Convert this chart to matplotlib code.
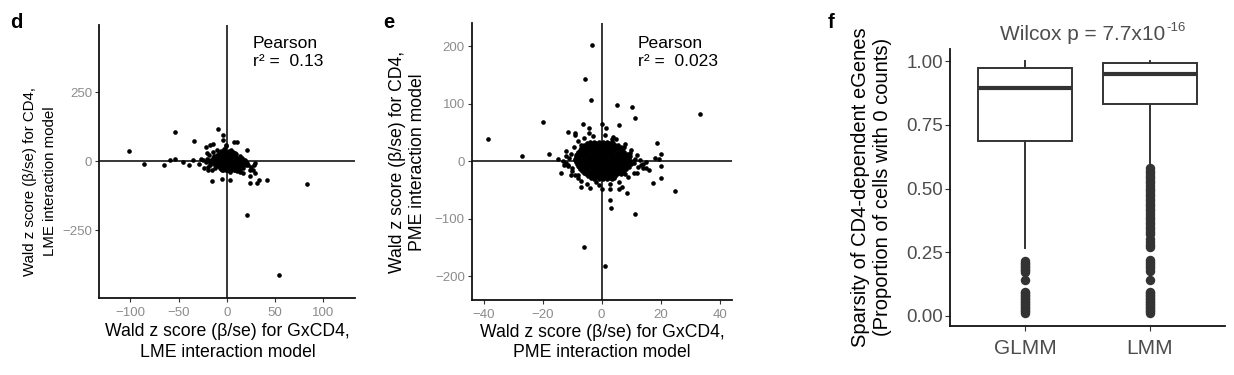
import numpy as np
import matplotlib
matplotlib.use("Agg")
import matplotlib.pyplot as plt

plt.rcParams['font.family'] = ['Liberation Sans', 'DejaVu Sans']

# ---------------- panel d data (GxCD4 z vs CD4 z, LME) ----------------
d_outer = [(-101.7, 36), (-86, -8), (-65.5, -12), (-58.6, 6), (-53.5, 106), (-53.5, 9),
           (-45.5, -3.6), (-38.7, -15), (-35, 4), (-33.8, 74), (-29, -8), (-26.6, 9),
           (-24, -24), (-19, -33), (-15.5, -70), (-21.7, 52), (-17.3, 58), (-13.9, 64),
           (-9.3, 118), (-4.1, 97), (-3.5, 79), (-0.7, 58), (7.9, 70), (10.3, 70),
           (20.7, 40), (-5, -63), (3.4, -69), (24, -78), (31.7, -80), (33.7, -69),
           (42, -69), (83.4, -82), (21.3, -193), (54, -410), (8.6, 30), (13.8, 18),
           (20.7, -6), (29.3, -6), (27.5, -30), (29.3, -42), (24, -54), (17.2, -42),
           (13.8, -30), (-21, 30)]
d_halo = [(-20, 10), (-22, -4), (-18, 22), (-17, -14), (-14, 35), (-12, -25), (-10, 42),
          (-6, -28), (-3, 46), (1, -30), (4, 40), (7, -26), (10, 28), (13, -18), (16, 12),
          (18, -8), (20, -2), (22, -14), (17, -24), (25, -20), (28, -12), (-25, 4),
          (-5, 24), (3, -38), (11, -35), (-1, 55), (6, 35), (14, -40), (-9, -15), (19, 5),
          (24, -30), (-19, -20), (-15, -30), (-4, -30), (0, -32), (4, -30), (8, -31)]
d_core_y = [36, 30, 24, 18, 12, 6, 0, -6, -12, -18, -24, -30]
d_core_x = [[-6, -2, 2],
            [-8, -4.4, -0.8, 2.8],
            [-10.6, -7, -3.4, 0.2, 3.8, 7.4],
            [-13, -9.4, -5.8, -2.2, 1.4, 5, 8.6],
            [-14.2, -10.6, -7, -3.4, 0.2, 3.8, 7.4, 11],
            [-19.6, -16, -12.4, -8.8, -5.2, -1.6, 2, 5.6, 9.2, 12.8, 16.4],
            [-17.8, -14.2, -10.6, -7, -3.4, 0.2, 3.8, 7.4, 11, 14.6, 18.2],
            [-17.6, -14, -10.4, -6.8, -3.2, 0.4, 4, 7.6, 11.2, 14.8, 18.4],
            [-12.2, -8.6, -5, -1.4, 2.2, 5.8, 9.4, 13, 16.6, 20.2],
            [-9, -5.4, -1.8, 1.8, 5.4, 9, 12.6, 16.2],
            [-7.2, -3.6, 0, 3.6, 7.2, 10.8],
            [-5, -1, 3, 7, 11]]
d_r2 = "0.13"

# ---------------- panel e data (GxCD4 z vs CD4 z, PME) ----------------
e_outer = [(-3.2, 202), (-5.7, 143), (-3.6, 106), (5.1, 97), (10.4, 94), (11.5, 75),
           (33.3, 82), (-38.6, 39), (-20, 68), (-26.9, 9), (-17.9, 13), (-6.2, 64),
           (-4.2, 57), (-4.2, 49), (0, 64), (1.4, 57), (5.9, 62), (-11.3, 51), (-9, 48),
           (-9, 45), (-13.6, -20), (-10.2, -24), (-8, -24), (-7, -45), (0, -48), (2.8, -48),
           (6, -49), (8.7, -56), (3, -68), (3.2, -82), (11.3, -92), (-6, -150), (1, -182),
           (18.9, 31), (20, 12), (18.2, 5), (19.3, 3), (20.1, -8), (20.3, -29), (17.5, -38),
           (24.8, -52), (14.9, -2), (16.2, -16), (13.3, -6), (13.9, -12), (11.9, -21),
           (9.6, 9), (11.3, 3), (7.7, 25), (3.7, 39), (-14.7, 3), (-11.9, 8), (-12.6, -6),
           (-11.4, -6)]
e_halo = [(-11, 5), (-12, -3), (-10.5, 12), (-10, -12), (-9.5, 25), (-11.5, -8), (-9, -25),
          (-8, 35), (-7, -35), (-6, 40), (-5, -40), (-3, 44), (-1, -42), (1, 45), (3, -40),
          (5, 38), (6, -36), (8, 30), (9, -28), (10, 20), (11, -20), (12, 10), (12.5, -10),
          (10.5, 0), (13, 2), (-13, 0), (-12, 18), (-8, -30), (7, -45), (4, 42), (-4, -47),
          (9.5, 14), (11, -4), (-10, -18), (2, 32), (-2, -36), (8, -22), (-7, 28), (14, -5),
          (15, -12)]
e_core_y = [34, 31, 28, 25, 22, 19, 16, 13, 10, 7, 4, 1, -2, -5, -8, -11, -14, -17,
            -20, -23, -26, -29, -32]
e_core_x = [[-4, -2.5, -1, 0.5, 2, 3.5],
            [-5, -3.5, -2, -0.5, 1, 2.5, 4],
            [-6, -4.7, -3.4, -2.1, -0.8, 0.5, 1.8, 3.1, 4.4, 5.7],
            [-6.5, -5.1, -3.8, -2.5, -1.2, 0.1, 1.4, 2.7, 4, 5.3, 6.6],
            [-7, -5.7, -4.4, -3.1, -1.8, -0.5, 0.8, 2.1, 3.4, 4.7, 6, 7.3],
            [-7.4, -6.1, -4.8, -3.5, -2.2, -0.9, 0.4, 1.7, 3, 4.3, 5.6, 6.9],
            [-8, -6.7, -5.4, -4.1, -2.8, -1.5, -0.2, 1.1, 2.4, 3.7, 5, 6.3, 7.6],
            [-8.2, -6.9, -5.6, -4.3, -3, -1.7, -0.4, 0.9, 2.2, 3.5, 4.8, 6.1, 7.4, 8.7],
            [-8.5, -7.2, -5.9, -4.6, -3.3, -2, -0.7, 0.6, 1.9, 3.2, 4.5, 5.8, 7.1, 8.4],
            [-8.8, -7.5, -6.2, -4.9, -3.6, -2.3, -1, 0.3, 1.6, 2.9, 4.2, 5.5, 6.8, 8.1, 9.4],
            [-9, -7.7, -6.4, -5.1, -3.8, -2.5, -1.2, 0.1, 1.4, 2.7, 4, 5.3, 6.6, 7.9, 9.2],
            [-8.9, -7.6, -6.3, -5, -3.7, -2.4, -1.1, 0.2, 1.5, 2.8, 4.1, 5.4, 6.7, 8, 9.3],
            [-8.6, -7.3, -6, -4.7, -3.4, -2.1, -0.8, 0.5, 1.8, 3.1, 4.4, 5.7, 7, 8.3, 9.6],
            [-8.3, -7, -5.7, -4.4, -3.1, -1.8, -0.5, 0.8, 2.1, 3.4, 4.7, 6, 7.3, 8.6, 9.9],
            [-8, -6.7, -5.4, -4.1, -2.8, -1.5, -0.2, 1.1, 2.4, 3.7, 5, 6.3, 7.6, 8.9],
            [-7.6, -6.3, -5, -3.7, -2.4, -1.1, 0.2, 1.5, 2.8, 4.1, 5.4, 6.7, 8, 9.3],
            [-7.2, -5.9, -4.6, -3.3, -2, -0.7, 0.6, 1.9, 3.2, 4.5, 5.8, 7.1, 8.4],
            [-6.6, -5.3, -4, -2.7, -1.4, -0.1, 1.2, 2.5, 3.8, 5.1, 6.4, 7.7],
            [-6, -4.7, -3.4, -2.1, -0.8, 0.5, 1.8, 3.1, 4.4, 5.7, 7],
            [-5.2, -3.9, -2.6, -1.3, 0, 1.3, 2.6, 3.9, 5.2, 6.5],
            [-4.5, -3.2, -1.9, -0.6, 0.7, 2, 3.3, 4.6],
            [-3.5, -2.2, -0.9, 0.4, 1.7, 3, 4.3],
            [-2.5, -1, 0.5, 2, 3.5]]
e_r2 = "0.023"

# ---------------- panel f data (sparsity boxplots) ----------------
f_categories = ["GLMM", "LMM"]
f_whislo = [0.266, 0.597]
f_q1 = [0.688, 0.831]
f_med = [0.894, 0.950]
f_q3 = [0.972, 0.995]
f_whishi = [1.0, 1.0]
f_fliers_glmm = [0.215, 0.209, 0.203, 0.197, 0.191, 0.185, 0.179, 0.174, 0.139,
                 0.095, 0.089, 0.083, 0.077, 0.071, 0.065, 0.059, 0.053, 0.047,
                 0.041, 0.035, 0.029, 0.023, 0.017, 0.011]
f_fliers_lmm = [0.580, 0.570, 0.560, 0.550, 0.540, 0.530, 0.520, 0.510, 0.500, 0.490,
                0.480, 0.470, 0.460, 0.450, 0.440, 0.430, 0.420, 0.410, 0.400, 0.390,
                0.380, 0.370, 0.360, 0.350, 0.340, 0.330, 0.320, 0.300, 0.290, 0.280,
                0.270, 0.218, 0.210, 0.202, 0.194, 0.186, 0.178, 0.139, 0.095, 0.089,
                0.083, 0.077, 0.071, 0.065, 0.059, 0.053, 0.047, 0.041, 0.035, 0.029,
                0.023, 0.017, 0.011]
f_title_p = "7.7x10"
f_title_exp = "-16"

W, H = 1234, 375


def fx(px):
    return px / W


def fy(py):
    return 1 - py / H


def collect(outer, halo, core_y, core_x):
    xs = [p[0] for p in outer] + [p[0] for p in halo]
    ys = [p[1] for p in outer] + [p[1] for p in halo]
    for yy, row in zip(core_y, core_x):
        xs += list(row)
        ys += [yy] * len(row)
    return np.array(xs), np.array(ys)


fig = plt.figure(figsize=(W / 100, H / 100), dpi=100)

axd = fig.add_axes([fx(99.3), fy(297.7), (355 - 99.3) / W, (297.7 - 25) / H])
axe = fig.add_axes([fx(471.7), fy(300), (732.3 - 471.7) / W, (300 - 22.7) / H])
axf = fig.add_axes([fx(950), fy(326), (1225 - 950) / W, (326 - 49.3) / H])


def style_scatter_axes(ax):
    for s in ['top', 'right']:
        ax.spines[s].set_visible(False)
    for s in ['left', 'bottom']:
        ax.spines[s].set_linewidth(1.3)
        ax.spines[s].set_color('#111111')
    ax.tick_params(length=3, width=0.8, color='#333333', labelcolor='#8c8c8c',
                   labelsize=9.5)
    ax.tick_params(axis='x', pad=3.5)
    ax.tick_params(axis='y', pad=2)


PT_S = 11

# panel d
xd, yd = collect(d_outer, d_halo, d_core_y, d_core_x)
axd.axhline(0, color='black', lw=1.1, zorder=1)
axd.axvline(0, color='black', lw=1.1, zorder=1)
axd.scatter(xd, yd, s=PT_S, color='black', linewidths=0, zorder=2)
axd.set_xlim(-132, 132.7)
axd.set_ylim(-494, 494)
axd.set_xticks([-100, -50, 0, 50, 100])
axd.set_yticks([-250, 0, 250])
style_scatter_axes(axd)
axd.text(0.60, 0.96, "Pearson\nr\u00b2 =  " + d_r2, transform=axd.transAxes,
         ha='left', va='top', fontsize=12.6, linespacing=1.25)

# panel e
xe, ye = collect(e_outer, e_halo, e_core_y, e_core_x)
axe.axhline(0, color='black', lw=1.1, zorder=1)
axe.axvline(0, color='black', lw=1.1, zorder=1)
axe.scatter(xe, ye, s=PT_S, color='black', linewidths=0, zorder=2)
axe.set_xlim(-44, 44.3)
axe.set_ylim(-241.5, 240.5)
axe.set_xticks([-40, -20, 0, 20, 40])
axe.set_yticks([-200, -100, 0, 100, 200])
style_scatter_axes(axe)
axe.text(0.638, 0.952, "Pearson\nr\u00b2 =  " + e_r2, transform=axe.transAxes,
         ha='left', va='top', fontsize=12.6, linespacing=1.25)

# axis titles d / e
lab_kw = dict(ha='center', va='center', fontsize=12.7, linespacing=1.3, color='black')
fig.text(fx(227.5), fy(342), "Wald z score (\u03b2/se) for GxCD4,\nLME interaction model", **lab_kw)
fig.text(fx(40), fy(181), "Wald z score (\u03b2/se) for CD4,\nLME interaction model",
         rotation=90, ha='center', va='center', fontsize=10.8, linespacing=1.55)
fig.text(fx(602), fy(342.5), "Wald z score (\u03b2/se) for GxCD4,\nPME interaction model", **lab_kw)
fig.text(fx(407.5), fy(162), "Wald z score (\u03b2/se) for CD4,\nPME interaction model",
         rotation=90, **lab_kw)

# panel f
stats = []
fliers = [f_fliers_glmm, f_fliers_lmm]
for i, name in enumerate(f_categories):
    stats.append(dict(label=name, whislo=f_whislo[i], q1=f_q1[i], med=f_med[i],
                      q3=f_q3[i], whishi=f_whishi[i], fliers=fliers[i]))
box_col = '#333333'
axf.bxp(stats, positions=[1, 2], widths=0.75, showcaps=False, patch_artist=True,
        boxprops=dict(facecolor='white', edgecolor=box_col, linewidth=1.4),
        medianprops=dict(color=box_col, linewidth=3.0),
        whiskerprops=dict(color=box_col, linewidth=1.4),
        flierprops=dict(marker='o', markerfacecolor=box_col, markeredgecolor=box_col,
                        markersize=5.8, linestyle='none'))
axf.set_xlim(0.4, 2.6)
axf.set_ylim(-0.04, 1.047)
axf.set_yticks([0, 0.25, 0.5, 0.75, 1.0])
axf.set_yticklabels(["0.00", "0.25", "0.50", "0.75", "1.00"])
axf.set_xticks([1, 2])
axf.set_xticklabels(f_categories)
for s in ['top', 'right']:
    axf.spines[s].set_visible(False)
for s in ['left', 'bottom']:
    axf.spines[s].set_linewidth(1.3)
    axf.spines[s].set_color('#111111')
axf.tick_params(length=3.5, width=0.8, color='#333333', labelcolor='#4d4d4d')
axf.tick_params(axis='y', labelsize=13.5, pad=1.5)
axf.tick_params(axis='x', labelsize=15, pad=6)

t_title = fig.text(fx(1083), fy(34), "Wilcox p = " + f_title_p,
                   ha='center', va='center', fontsize=15, color='#4d4d4d')
axf.annotate(f_title_exp, xy=(1.0, 1.0), xycoords=t_title, xytext=(0.5, 2),
             textcoords='offset points', ha='left', va='top', fontsize=9.5,
             color='#4d4d4d', annotation_clip=False)
fig.text(fx(871), fy(187), "Sparsity of CD4-dependent eGenes\n(Proportion of cells with 0 counts)",
         rotation=90, ha='center', va='center', fontsize=14.5, linespacing=1.2, color='black')

# panel letters
fig.text(fx(10), fy(28.3), "d", fontsize=14.5, fontweight='bold', va='baseline')
fig.text(fx(383), fy(28.3), "e", fontsize=14.5, fontweight='bold', va='baseline')
fig.text(fx(828), fy(28.3), "f", fontsize=14.5, fontweight='bold', va='baseline')

fig.savefig('out.png', dpi=100)
